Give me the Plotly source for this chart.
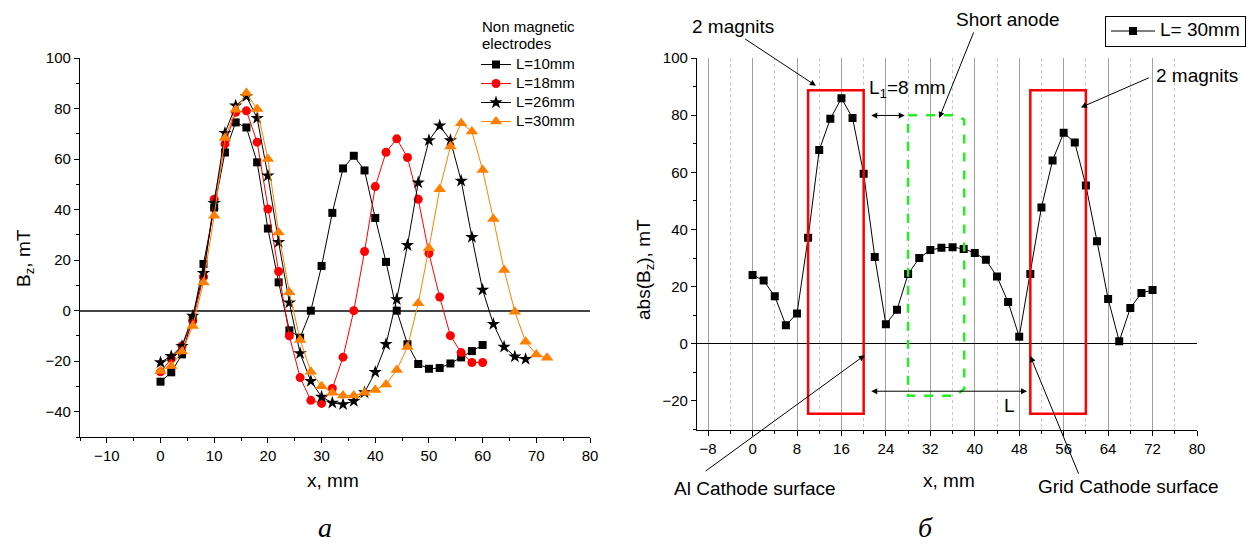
import plotly.graph_objects as go

# ---------------- data: panel a (Bz, non magnetic electrodes) ----------------
x_L10 = [0, 2, 4, 6, 8, 10, 12, 14, 16, 18, 20, 22, 24, 26, 28, 30, 32, 34, 36, 38,
         40, 42, 44, 46, 48, 50, 52, 54, 56, 58, 60]
y_L10 = [-28.1, -24.4, -17.3, -3.0, 18.5, 40.8, 62.6, 74.5, 72.5, 58.7, 32.5, 11.2,
         -7.8, -10.7, 0.0, 17.7, 38.7, 56.3, 61.3, 55.5, 36.7, 19.3, 0.0, -13.3,
         -21.1, -23.0, -22.7, -20.9, -18.5, -16.0, -13.6]

x_L18 = [0, 2, 4, 6, 8, 10, 12, 14, 16, 18, 20, 22, 24, 26, 28, 30, 32, 34, 36, 38,
         40, 42, 44, 46, 48, 50, 52, 54, 56, 58, 60]
y_L18 = [-24.2, -18.9, -14.0, -4.0, 13.5, 44.1, 66.0, 78.5, 79.1, 66.7, 40.2, 15.5,
         -10.0, -26.5, -35.5, -36.7, -30.8, -18.4, 0.0, 23.4, 49.1, 62.7, 68.0, 60.6,
         44.1, 22.7, 5.4, -9.9, -16.6, -20.5, -20.5]

x_L26 = [0, 2, 4, 6, 8, 10, 12, 14, 16, 18, 20, 22, 24, 26, 28, 30, 32, 34, 36, 38,
         40, 42, 44, 46, 48, 50, 52, 54, 56, 58, 60, 62, 64, 66, 68]
y_L26 = [-20.5, -18.0, -14.0, -2.1, 14.8, 42.5, 70.3, 81.1, 84.8, 76.2, 53.4, 27.1,
         3.2, -16.9, -27.9, -34.1, -36.5, -37.1, -35.8, -32.4, -24.3, -13.3, 4.5,
         25.9, 50.7, 67.4, 73.2, 67.4, 51.4, 29.1, 8.2, -5.3, -14.3, -18.2, -19.2]

x_L30 = [0, 2, 4, 6, 8, 10, 12, 14, 16, 18, 20, 22, 24, 26, 28, 30, 32, 34, 36, 38,
         40, 42, 44, 46, 48, 50, 52, 54, 56, 58, 60, 62, 64, 66, 68, 70, 72]
y_L30 = [-23.9, -21.9, -16.2, -6.1, 11.1, 37.6, 68.3, 79.5, 86.1, 79.8, 60.0, 30.9,
         7.3, -11.6, -24.2, -29.9, -32.5, -33.6, -33.6, -32.5, -31.4, -29.2, -23.5,
         -14.4, 2.9, 24.7, 48.1, 65.0, 74.2, 70.9, 55.7, 36.3, 16.1, -0.4, -12.3,
         -17.3, -18.6]

# ---------------- data: panel b (abs(Bz), L = 30 mm) ----------------
x_abs = [0, 2, 4, 6, 8, 10, 12, 14, 16, 18, 20, 22, 24, 26, 28, 30, 32, 34, 36, 38,
         40, 42, 44, 46, 48, 50, 52, 54, 56, 58, 60, 62, 64, 66, 68, 70, 72]
y_abs = [24.1, 22.1, 16.6, 6.5, 10.6, 37.1, 67.8, 78.7, 85.9, 79.0, 59.5, 30.4, 6.8,
         11.9, 24.4, 30.0, 32.8, 33.6, 33.8, 33.2, 31.8, 29.4, 23.5, 14.6, 2.5, 24.4,
         47.7, 64.1, 73.8, 70.4, 55.4, 35.9, 15.7, 0.9, 12.5, 17.8, 18.8]

# magnet blocks (data coordinates of panel b)
magnet_x0 = [10, 50]
magnet_x1 = [20, 60]
magnet_y0 = -24.5
magnet_y1 = 88.7

# the page body has an 8 px margin: size the figure so it ends at the window edge
OFF = 8
W, H = 1254 - OFF, 547 - OFF
FONT = "Liberation Sans, Arial, sans-serif"


def px(x):
    return (x - OFF) / W


def py(y):
    return 1 - (y - OFF) / H


fig = go.Figure()

series = [
    (x_L10, y_L10, "L=10mm", "#000000", "square", 8),
    (x_L18, y_L18, "L=18mm", "#FF0000", "circle", 9),
    (x_L26, y_L26, "L=26mm", "#000000", "star", 10),
    (x_L30, y_L30, "L=30mm", "#FF8000", "triangle-up", 11),
]
for xs, ys, name, col, sym, sz in series:
    fig.add_trace(go.Scatter(
        x=xs, y=ys, name='<span style="font-size:15px">' + name + "</span>",
        mode="lines+markers",
        line=dict(color=col, width=1),
        marker=dict(symbol=sym, size=sz, color=col, line=dict(width=0)),
        xaxis="x", yaxis="y", legend="legend",
    ))

fig.add_trace(go.Scatter(
    x=x_abs, y=y_abs, name='<span style="font-size:19px">L= 30mm</span>',
    mode="lines+markers",
    line=dict(color="#000000", width=1),
    marker=dict(symbol="square", size=8, color="#000000", line=dict(width=0)),
    xaxis="x2", yaxis="y2", legend="legend2",
))

axis_common = dict(
    showline=True, linecolor="#000000", linewidth=1.2,
    ticks="outside", ticklen=5, tickwidth=1, tickcolor="#000000",
    tickfont=dict(family=FONT, size=15, color="#000000"),
    mirror=False, automargin=False,
)

fig.update_layout(
    template="none",
    width=W, height=H,
    margin=dict(l=0, r=0, t=0, b=0, pad=0, autoexpand=False),
    paper_bgcolor="white", plot_bgcolor="white",
    font=dict(family=FONT, color="#000000"),
    xaxis=dict(domain=[px(80), px(590)], range=[-15, 80], tick0=0, dtick=10,
               zeroline=False, showgrid=False,
               minor=dict(dtick=5, ticks="outside", ticklen=3, tickcolor="#000000"),
               anchor="y", **axis_common),
    yaxis=dict(domain=[py(437), py(58)], range=[-50, 100], tick0=0, dtick=20,
               zeroline=True, zerolinecolor="#444444", zerolinewidth=1.5, showgrid=False,
               minor=dict(dtick=10, ticks="outside", ticklen=3, tickcolor="#000000"),
               anchor="x", **axis_common),
    xaxis2=dict(domain=[px(697), px(1197)], range=[-10, 80], tick0=0, dtick=8,
                zeroline=False,
                showgrid=True, gridcolor="#A0A0A0", gridwidth=1,
                minor=dict(dtick=4, ticks="outside", ticklen=3, tickcolor="#000000",
                           showgrid=True, gridcolor="#C8C8C8", griddash="dot", gridwidth=1),
                anchor="y2", **axis_common),
    yaxis2=dict(domain=[py(429.5), py(58)], range=[-30, 100], tick0=0, dtick=20,
                zeroline=True, zerolinecolor="#000000", zerolinewidth=1, showgrid=False,
                minor=dict(dtick=10, ticks="outside", ticklen=3, tickcolor="#000000"),
                anchor="x2", **axis_common),
    legend=dict(
        x=px(476), y=py(50), xanchor="left", yanchor="top",
        bgcolor="rgba(0,0,0,0)", borderwidth=0,
        font=dict(family=FONT, size=11, color="#000000"),
        itemsizing="trace", tracegroupgap=0,
    ),
    legend2=dict(
        x=px(1246), y=py(15.5), xanchor="right", yanchor="top",
        bgcolor="white", bordercolor="#000000", borderwidth=1,
        font=dict(family=FONT, size=12, color="#000000"),
        itemwidth=44,
    ),
    showlegend=True,
)

# ---------------- shapes on panel b ----------------
for a, b in zip(magnet_x0, magnet_x1):
    fig.add_shape(type="rect", xref="x2", yref="y2", x0=a, x1=b,
                  y0=magnet_y0, y1=magnet_y1,
                  line=dict(color="#FF0000", width=2.5), fillcolor="rgba(0,0,0,0)")

fig.add_shape(type="path", xref="x2", yref="y2",
              path="M 28,80 L 36.6,80 L 38.1,78.4 L 38.1,-15.8 L 36.6,-18.2 L 28,-18.2 Z",
              line=dict(color="#22EE22", width=2.5, dash="dash"))

# ---------------- annotations ----------------
ann = []
AFS = 19


def txt(x, y, t, size=AFS, xref="paper", yref="paper", xanchor="center", **kw):
    if xref == "paper":
        x = px(x)
    if yref == "paper":
        y = py(y)
    ann.append(dict(x=x, y=y, xref=xref, yref=yref, text=t, showarrow=False,
                    xanchor=xanchor, yanchor="middle",
                    font=dict(family=FONT, size=size, color="#000000"), **kw))


def arrow(x, y, ax, ay, both=False):
    ann.append(dict(x=x, y=y, ax=ax, ay=ay, xref="x2", yref="y2", axref="x2",
                    ayref="y2", text="", showarrow=True, arrowhead=2, arrowsize=1.2,
                    arrowwidth=1, arrowcolor="#000000", standoff=0, startstandoff=0,
                    arrowside="end+start" if both else "end", startarrowhead=2,
                    startarrowsize=1.2))


# legend title of panel a
txt(480, 26, "Non magnetic", size=15, xanchor="left")
txt(480, 43, "electrodes", size=15, xanchor="left")

txt(733, 26, "2 magnits")
arrow(11.4, 90.3, -1.6, 107.0)
txt(1008, 19, "Short anode")
arrow(33.6, 79.0, 39.9, 109.5)
txt(1197, 75, "2 magnits")
arrow(59.1, 82.7, 71.6, 93.3)
txt(27.9, 89.3, "L<sub>1</sub>=8 mm", xref="x2", yref="y2")
arrow(27.4, 79.9, 21.1, 79.9, both=True)
arrow(49.4, -16.6, 21.1, -16.6, both=True)
txt(46.2, -21.5, "L", xref="x2", yref="y2")
txt(755, 488, "Al Cathode surface")
arrow(20.2, -4.0, -8.7, -44.9)
txt(1128, 487, "Grid Cathode surface")
arrow(50.0, -4.3, 58.8, -46.0)

# axis titles
txt(333, 480, "x, mm")
txt(949, 480, "x, mm")
txt(25, 258, "B<sub>z</sub>, mT", textangle=-90)
txt(645, 270, "abs(B<sub>z</sub>), mT", textangle=-90)

# panel letters
for xx, letter in [(325, "а"), (925, "б")]:
    ann.append(dict(x=px(xx), y=py(527), xref="paper", yref="paper",
                    text="<i>" + letter + "</i>", showarrow=False,
                    xanchor="center", yanchor="middle",
                    font=dict(family="Liberation Serif, Times New Roman, serif",
                              size=28, color="#000000")))

fig.update_layout(annotations=ann)

fig.write_html("out.html")
